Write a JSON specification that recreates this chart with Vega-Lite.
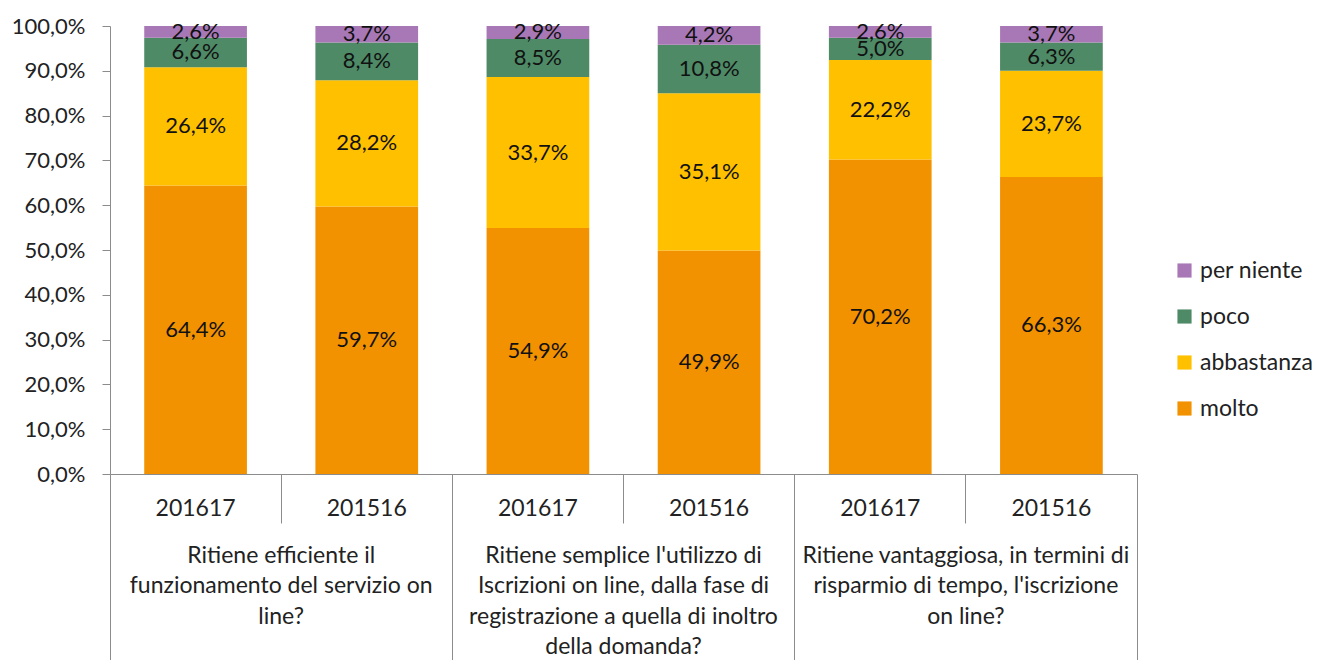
{
  "$schema": "https://vega.github.io/schema/vega-lite/v6.json",
  "width": 1027,
  "height": 448,
  "autosize": "none",
  "padding": {"left": 110, "top": 26, "right": 182, "bottom": 186},
  "background": "white",
  "config": {
    "font": "Lato",
    "view": {"stroke": null},
    "locale": {"number": {"decimal": ",", "thousands": ".", "grouping": [3], "currency": ["", " €"]}}
  },
  "data": {
    "values": [
      {"barra": "Ritiene efficiente il\nfunzionamento del servizio on\nline?|201617", "risposta": "molto", "ordine": 1, "valore": 0.644},
      {"barra": "Ritiene efficiente il\nfunzionamento del servizio on\nline?|201617", "risposta": "abbastanza", "ordine": 2, "valore": 0.264},
      {"barra": "Ritiene efficiente il\nfunzionamento del servizio on\nline?|201617", "risposta": "poco", "ordine": 3, "valore": 0.066},
      {"barra": "Ritiene efficiente il\nfunzionamento del servizio on\nline?|201617", "risposta": "per niente", "ordine": 4, "valore": 0.026},
      {"barra": "Ritiene efficiente il\nfunzionamento del servizio on\nline?|201516", "risposta": "molto", "ordine": 1, "valore": 0.597},
      {"barra": "Ritiene efficiente il\nfunzionamento del servizio on\nline?|201516", "risposta": "abbastanza", "ordine": 2, "valore": 0.282},
      {"barra": "Ritiene efficiente il\nfunzionamento del servizio on\nline?|201516", "risposta": "poco", "ordine": 3, "valore": 0.084},
      {"barra": "Ritiene efficiente il\nfunzionamento del servizio on\nline?|201516", "risposta": "per niente", "ordine": 4, "valore": 0.037},
      {"barra": "Ritiene semplice l'utilizzo di\nIscrizioni on line, dalla fase di\nregistrazione a quella di inoltro\ndella domanda?|201617", "risposta": "molto", "ordine": 1, "valore": 0.549},
      {"barra": "Ritiene semplice l'utilizzo di\nIscrizioni on line, dalla fase di\nregistrazione a quella di inoltro\ndella domanda?|201617", "risposta": "abbastanza", "ordine": 2, "valore": 0.337},
      {"barra": "Ritiene semplice l'utilizzo di\nIscrizioni on line, dalla fase di\nregistrazione a quella di inoltro\ndella domanda?|201617", "risposta": "poco", "ordine": 3, "valore": 0.085},
      {"barra": "Ritiene semplice l'utilizzo di\nIscrizioni on line, dalla fase di\nregistrazione a quella di inoltro\ndella domanda?|201617", "risposta": "per niente", "ordine": 4, "valore": 0.029},
      {"barra": "Ritiene semplice l'utilizzo di\nIscrizioni on line, dalla fase di\nregistrazione a quella di inoltro\ndella domanda?|201516", "risposta": "molto", "ordine": 1, "valore": 0.499},
      {"barra": "Ritiene semplice l'utilizzo di\nIscrizioni on line, dalla fase di\nregistrazione a quella di inoltro\ndella domanda?|201516", "risposta": "abbastanza", "ordine": 2, "valore": 0.351},
      {"barra": "Ritiene semplice l'utilizzo di\nIscrizioni on line, dalla fase di\nregistrazione a quella di inoltro\ndella domanda?|201516", "risposta": "poco", "ordine": 3, "valore": 0.108},
      {"barra": "Ritiene semplice l'utilizzo di\nIscrizioni on line, dalla fase di\nregistrazione a quella di inoltro\ndella domanda?|201516", "risposta": "per niente", "ordine": 4, "valore": 0.042},
      {"barra": "Ritiene vantaggiosa, in termini di\nrisparmio di tempo, l'iscrizione\non line?|201617", "risposta": "molto", "ordine": 1, "valore": 0.702},
      {"barra": "Ritiene vantaggiosa, in termini di\nrisparmio di tempo, l'iscrizione\non line?|201617", "risposta": "abbastanza", "ordine": 2, "valore": 0.222},
      {"barra": "Ritiene vantaggiosa, in termini di\nrisparmio di tempo, l'iscrizione\non line?|201617", "risposta": "poco", "ordine": 3, "valore": 0.05},
      {"barra": "Ritiene vantaggiosa, in termini di\nrisparmio di tempo, l'iscrizione\non line?|201617", "risposta": "per niente", "ordine": 4, "valore": 0.026},
      {"barra": "Ritiene vantaggiosa, in termini di\nrisparmio di tempo, l'iscrizione\non line?|201516", "risposta": "molto", "ordine": 1, "valore": 0.663},
      {"barra": "Ritiene vantaggiosa, in termini di\nrisparmio di tempo, l'iscrizione\non line?|201516", "risposta": "abbastanza", "ordine": 2, "valore": 0.237},
      {"barra": "Ritiene vantaggiosa, in termini di\nrisparmio di tempo, l'iscrizione\non line?|201516", "risposta": "poco", "ordine": 3, "valore": 0.063},
      {"barra": "Ritiene vantaggiosa, in termini di\nrisparmio di tempo, l'iscrizione\non line?|201516", "risposta": "per niente", "ordine": 4, "valore": 0.037}
    ]
  },
  "layer": [
    {
      "mark": {"type": "bar", "width": {"band": 0.6}},
      "encoding": {
        "x": {
          "field": "barra", "type": "nominal", "sort": null,
          "scale": {"paddingInner": 0, "paddingOuter": 0},
          "axis": {
            "orient": "bottom", "title": null, "bandPosition": 1,
            "domain": true, "domainColor": "#8c8c8c",
            "ticks": true, "tickSize": 186, "tickColor": "#8c8c8c",
            "tickOpacity": {"condition": {"test": "indexof(datum.value, 'vantaggiosa') >= 0 && indexof(datum.value, '|201516') >= 0", "value": 1}, "value": 0},
            "labelExpr": "split(datum.value, '|')[1]",
            "labelPadding": -152, "labelBaseline": "middle",
            "labelAngle": 0, "labelFontSize": 23, "labelColor": "#222", "labelOverlap": false
          }
        },
        "y": {
          "field": "valore", "type": "quantitative", "stack": "zero",
          "scale": {"domain": [0, 1], "nice": false},
          "axis": {
            "title": null, "grid": false, "values": [0, 0.1, 0.2, 0.3, 0.4, 0.5, 0.6, 0.7, 0.8, 0.9, 1],
            "format": ".1%", "domainColor": "#8c8c8c", "tickColor": "#8c8c8c", "tickSize": 8,
            "labelPadding": 17, "labelFontSize": 22, "labelColor": "#222"
          }
        },
        "order": {"field": "ordine", "type": "quantitative", "sort": "ascending"},
        "color": {
          "field": "risposta", "type": "nominal",
          "sort": ["per niente", "poco", "abbastanza", "molto"],
          "scale": {"domain": ["per niente", "poco", "abbastanza", "molto"], "range": ["#A878B6", "#4E8A66", "#FFC000", "#F39200"]},
          "legend": {
            "orient": "none", "legendX": 1063, "legendY": 233, "title": null,
            "symbolType": "square", "symbolSize": 200, "symbolStrokeWidth": 0,
            "labelFontSize": 23, "labelColor": "#222", "rowPadding": 22, "labelOffset": 4
          }
        }
      }
    },
    {
      "mark": {"type": "text", "fontSize": 22, "baseline": "middle", "color": "#111111"},
      "encoding": {
        "x": {
          "field": "barra", "type": "nominal", "sort": null,
          "axis": {
            "orient": "bottom", "title": null, "bandPosition": 0, "domain": false,
            "ticks": true, "tickColor": "#8c8c8c",
            "tickSize": {"condition": {"test": "indexof(datum.value, '|201617') >= 0", "value": 186}, "value": 49},
            "labelExpr": "indexof(datum.value, '|201516') >= 0 ? split(split(datum.value, '|')[0], '\\n') : ''",
            "labelOffset": -85.58,
            "labelPadding": 21, "labelBaseline": "top", "labelLineHeight": 30.5, "labelAngle": 0,
            "labelFontSize": 23, "labelColor": "#222", "labelLimit": 500, "labelOverlap": false
          }
        },
        "y": {
          "field": "valore", "type": "quantitative", "stack": "zero", "bandPosition": 0.5,
          "axis": {
            "title": null, "grid": false, "values": [0, 0.1, 0.2, 0.3, 0.4, 0.5, 0.6, 0.7, 0.8, 0.9, 1],
            "format": ".1%", "domainColor": "#8c8c8c", "tickColor": "#8c8c8c", "tickSize": 8,
            "labelPadding": 17, "labelFontSize": 22, "labelColor": "#222"
          }
        },
        "detail": {"field": "risposta", "type": "nominal"},
        "order": {"field": "ordine", "type": "quantitative", "sort": "ascending"},
        "text": {"field": "valore", "type": "quantitative", "format": ".1%"}
      }
    }
  ],
  "resolve": {"axis": {"x": "independent"}}
}
